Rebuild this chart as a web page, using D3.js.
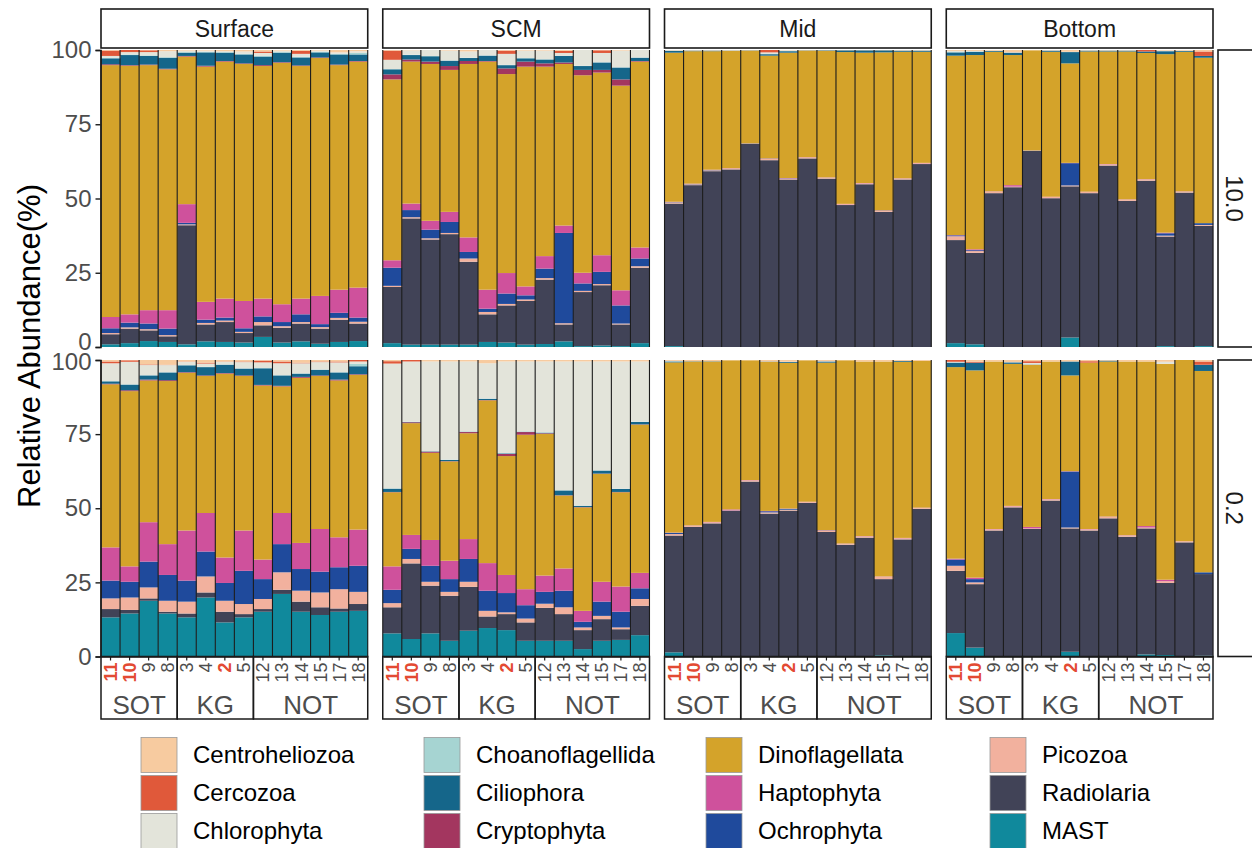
<!DOCTYPE html>
<html><head><meta charset="utf-8">
<script src="https://cdn.jsdelivr.net/npm/d3@7"></script>
<style>body{margin:0;background:#fff;}svg{display:block;font-family:"Liberation Sans",Arial,Helvetica,sans-serif;}</style>
</head><body><svg id="c" width="1252" height="848"></svg>
<script>
// ---------------- data ----------------
const depths = ["Surface", "SCM", "Mid", "Bottom"];
const sizes = ["10.0", "0.2"];
const stations = ["11", "10", "9", "8", "3", "4", "2", "5", "12", "13", "14", "15", "17", "18"];
const highlighted = ["11", "10", "2"];
const regionNames = ["SOT", "KG", "NOT"];
const regionCounts = [4, 4, 6];
const yTicks = [0, 25, 50, 75, 100];
// stacking order, bottom -> top
const taxaStack = ["MAST", "Radiolaria", "Picozoa", "Ochrophyta", "Haptophyta", "Dinoflagellata",
  "Cryptophyta", "Ciliophora", "Choanoflagellida", "Chlorophyta", "Cercozoa", "Centroheliozoa"];
const legendOrder = ["Centroheliozoa", "Cercozoa", "Chlorophyta", "Choanoflagellida", "Ciliophora", "Cryptophyta",
  "Dinoflagellata", "Haptophyta", "Ochrophyta", "Picozoa", "Radiolaria", "MAST"];
const taxaColors = ["#10899C", "#414357", "#F2B19E", "#1F4A9C", "#CF519C", "#D4A32A",
  "#A3365F", "#15668A", "#A6D4D2", "#E3E4DA", "#E0593A", "#F7CBA0"];

// rows: one per station (order of `stations`), values in `taxaStack` order (%)
const surface_10 = [
  [0.9, 3.4, 0.4, 1.6, 3.8, 84.8, 0.3, 2.0, 0.2, 0.6, 1.8, 0.2],
  [1.3, 4.9, 0.4, 1.6, 2.8, 83.7, 0.2, 3.4, 0.2, 0.8, 0.7, 0.0],
  [2.0, 3.6, 0.4, 1.9, 4.5, 82.5, 0.2, 2.9, 0.2, 1.1, 0.6, 0.1],
  [1.7, 1.9, 0.4, 2.2, 6.2, 81.1, 0.2, 3.7, 0.2, 2.0, 0.0, 0.4],
  [0.9, 40.1, 0.3, 0.5, 6.3, 49.7, 0.2, 1.1, 0.2, 0.5, 0.0, 0.2],
  [1.9, 5.7, 0.5, 1.1, 6.0, 79.2, 0.3, 4.5, 0.2, 0.4, 0.0, 0.2],
  [1.7, 6.7, 0.5, 1.0, 6.4, 79.8, 0.2, 2.8, 0.2, 0.3, 0.0, 0.4],
  [1.5, 3.2, 0.4, 1.2, 9.2, 79.8, 0.2, 3.0, 0.2, 0.8, 0.0, 0.5],
  [3.4, 3.9, 1.1, 1.9, 6.0, 78.3, 0.3, 2.9, 0.2, 1.0, 0.5, 0.5],
  [1.5, 5.0, 0.5, 1.4, 6.0, 81.3, 0.2, 3.2, 0.2, 0.5, 0.0, 0.2],
  [1.9, 6.0, 0.5, 2.6, 5.3, 78.3, 0.2, 2.7, 0.2, 1.0, 1.0, 0.3],
  [1.1, 5.1, 0.5, 1.0, 9.5, 80.1, 0.2, 1.7, 0.2, 0.4, 0.0, 0.2],
  [1.7, 7.5, 0.6, 1.7, 7.8, 75.6, 0.2, 3.4, 0.2, 0.5, 0.0, 0.8],
  [2.0, 5.9, 0.6, 1.4, 10.1, 76.1, 0.2, 2.2, 0.5, 0.6, 0.0, 0.4]
];
const scm_10 = [
  [1.3, 18.9, 0.4, 6.1, 2.5, 60.9, 1.7, 1.7, 0.1, 3.1, 3.1, 0.2],
  [0.8, 42.5, 0.4, 2.4, 2.2, 47.8, 0.7, 1.5, 0.1, 1.5, 0.0, 0.1],
  [0.8, 35.4, 0.4, 2.9, 3.0, 52.8, 0.8, 1.8, 0.1, 2.0, 0.0, 0.0],
  [0.8, 37.2, 0.4, 3.7, 3.4, 47.8, 1.3, 1.8, 0.1, 3.3, 0.0, 0.2],
  [0.8, 27.9, 1.1, 2.2, 4.9, 58.4, 1.0, 1.0, 0.1, 2.1, 0.0, 0.5],
  [1.7, 9.3, 0.8, 1.1, 6.4, 76.8, 0.2, 1.8, 0.1, 1.8, 0.0, 0.0],
  [1.5, 12.5, 0.5, 3.5, 6.9, 67.0, 1.9, 1.1, 0.1, 3.7, 1.1, 0.2],
  [0.8, 14.7, 0.5, 1.4, 3.0, 74.0, 1.7, 1.1, 0.1, 2.5, 0.0, 0.2],
  [1.0, 21.7, 0.5, 3.2, 4.2, 63.8, 1.1, 1.3, 0.1, 2.9, 0.0, 0.2],
  [1.9, 5.7, 0.4, 30.4, 2.5, 54.4, 0.5, 2.2, 0.1, 0.9, 0.7, 0.3],
  [0.3, 18.2, 0.4, 2.5, 3.6, 66.5, 1.8, 1.3, 0.1, 5.3, 0.0, 0.0],
  [0.5, 20.3, 0.4, 4.1, 5.6, 61.5, 0.9, 2.5, 0.1, 3.1, 0.9, 0.1],
  [0.3, 7.3, 0.3, 6.1, 5.1, 68.9, 2.1, 4.0, 0.1, 5.6, 0.0, 0.2],
  [1.3, 25.4, 0.5, 2.6, 3.7, 62.6, 0.2, 1.1, 0.1, 2.5, 0.0, 0.0]
];
const mid_10 = [
  [0.3, 48.0, 0.4, 0.1, 0.1, 50.2, 0.0, 0.6, 0.1, 0.1, 0.0, 0.1],
  [0.0, 54.5, 0.3, 0.1, 0.1, 44.6, 0.0, 0.2, 0.0, 0.1, 0.0, 0.1],
  [0.0, 59.2, 0.3, 0.1, 0.1, 39.9, 0.0, 0.2, 0.0, 0.1, 0.0, 0.1],
  [0.0, 59.8, 0.3, 0.0, 0.1, 39.5, 0.0, 0.1, 0.0, 0.1, 0.0, 0.1],
  [0.0, 68.5, 0.1, 0.0, 0.0, 31.2, 0.0, 0.1, 0.0, 0.0, 0.0, 0.1],
  [0.0, 62.9, 0.4, 0.1, 0.1, 34.6, 0.0, 0.5, 0.0, 0.6, 0.8, 0.0],
  [0.0, 56.4, 0.3, 0.1, 0.1, 42.2, 0.0, 0.5, 0.1, 0.2, 0.0, 0.1],
  [0.0, 63.5, 0.3, 0.0, 0.1, 35.9, 0.0, 0.1, 0.0, 0.0, 0.0, 0.1],
  [0.0, 56.7, 0.3, 0.0, 0.1, 42.6, 0.0, 0.2, 0.0, 0.0, 0.0, 0.1],
  [0.0, 47.8, 0.3, 0.0, 0.1, 51.1, 0.0, 0.6, 0.0, 0.0, 0.0, 0.1],
  [0.0, 54.8, 0.3, 0.0, 0.1, 43.9, 0.0, 0.8, 0.0, 0.0, 0.0, 0.1],
  [0.0, 45.5, 0.3, 0.1, 0.1, 53.2, 0.0, 0.7, 0.0, 0.0, 0.0, 0.1],
  [0.0, 56.4, 0.3, 0.0, 0.1, 42.6, 0.0, 0.4, 0.0, 0.1, 0.0, 0.1],
  [0.0, 61.6, 0.3, 0.0, 0.1, 37.4, 0.0, 0.4, 0.0, 0.1, 0.0, 0.1]
];
const bottom_10 = [
  [1.3, 34.7, 1.3, 0.3, 0.1, 60.4, 0.0, 1.1, 0.1, 0.4, 0.0, 0.3],
  [0.9, 30.8, 0.6, 0.3, 0.3, 65.4, 0.0, 1.1, 0.1, 0.2, 0.0, 0.3],
  [0.0, 51.8, 0.5, 0.0, 0.1, 47.0, 0.0, 0.3, 0.0, 0.1, 0.0, 0.2],
  [0.0, 53.8, 0.2, 0.0, 0.5, 43.8, 0.0, 0.8, 0.0, 0.1, 0.0, 0.8],
  [0.0, 66.1, 0.1, 0.0, 0.0, 33.7, 0.0, 0.0, 0.0, 0.0, 0.0, 0.1],
  [0.0, 50.1, 0.4, 0.0, 0.1, 48.8, 0.0, 0.4, 0.0, 0.1, 0.0, 0.1],
  [3.2, 50.9, 0.3, 7.5, 0.1, 33.5, 0.0, 3.8, 0.0, 0.1, 0.0, 0.6],
  [0.0, 51.8, 0.4, 0.0, 0.1, 47.2, 0.0, 0.3, 0.0, 0.1, 0.0, 0.1],
  [0.0, 61.1, 0.4, 0.0, 0.1, 37.9, 0.0, 0.3, 0.0, 0.1, 0.0, 0.1],
  [0.0, 49.2, 0.4, 0.0, 0.1, 49.8, 0.0, 0.3, 0.0, 0.1, 0.0, 0.1],
  [0.0, 56.0, 0.4, 0.0, 0.1, 42.5, 0.0, 0.5, 0.0, 0.0, 0.5, 0.0],
  [0.3, 36.9, 0.3, 0.8, 0.2, 60.1, 0.0, 1.0, 0.0, 0.2, 0.0, 0.2],
  [0.0, 52.0, 0.3, 0.0, 0.1, 47.0, 0.0, 0.3, 0.0, 0.1, 0.0, 0.2],
  [0.3, 40.5, 0.3, 0.6, 0.0, 55.7, 0.0, 0.6, 0.0, 0.0, 1.5, 0.5]
];
const surface_02 = [
  [13.2, 2.8, 3.6, 6.0, 11.2, 55.0, 0.2, 0.8, 0.1, 6.0, 0.6, 0.5],
  [14.5, 1.2, 4.2, 5.3, 5.2, 59.1, 0.3, 1.9, 0.1, 7.6, 0.5, 0.1],
  [18.8, 0.8, 3.7, 8.7, 13.3, 47.8, 0.3, 1.4, 0.1, 3.4, 0.2, 1.5],
  [14.5, 0.6, 3.7, 8.7, 10.4, 55.0, 0.3, 2.6, 0.1, 2.4, 0.1, 1.6],
  [13.2, 1.3, 4.0, 7.1, 16.9, 53.2, 0.2, 2.3, 0.1, 1.1, 0.1, 0.5],
  [19.9, 1.7, 5.4, 8.4, 13.0, 46.2, 0.2, 2.8, 0.1, 1.1, 0.3, 0.9],
  [11.5, 3.6, 3.7, 6.0, 8.6, 62.0, 0.2, 2.8, 0.1, 0.9, 0.1, 0.5],
  [13.2, 1.1, 3.4, 11.2, 13.6, 52.1, 0.2, 2.3, 0.1, 2.1, 0.2, 0.5],
  [15.1, 0.9, 3.4, 6.7, 6.6, 58.7, 0.2, 5.6, 0.1, 1.9, 0.6, 0.2],
  [21.1, 1.4, 5.9, 9.5, 10.5, 42.7, 0.2, 3.5, 0.1, 4.0, 0.6, 0.5],
  [15.1, 3.4, 3.7, 7.3, 8.8, 55.7, 0.3, 1.1, 0.1, 3.4, 0.2, 0.9],
  [14.0, 2.6, 5.0, 7.0, 14.4, 51.6, 0.2, 1.9, 0.1, 2.5, 0.2, 0.5],
  [15.1, 1.1, 6.5, 7.4, 10.1, 52.9, 0.3, 2.4, 0.1, 3.3, 0.3, 0.5],
  [15.4, 2.3, 4.1, 8.8, 12.2, 52.2, 0.2, 2.7, 0.8, 0.8, 0.5, 0.0]
];
const scm_02 = [
  [7.8, 8.8, 1.4, 4.5, 7.9, 25.0, 0.1, 1.1, 0.1, 42.1, 0.8, 0.4],
  [5.9, 25.5, 1.5, 3.4, 4.7, 37.7, 0.3, 0.1, 0.1, 20.3, 0.5, 0.0],
  [7.8, 16.1, 1.3, 5.4, 8.7, 29.4, 0.4, 0.1, 0.1, 30.2, 0.0, 0.5],
  [5.3, 15.2, 1.3, 4.3, 6.2, 33.5, 0.1, 0.4, 0.1, 33.1, 0.0, 0.5],
  [8.7, 14.8, 1.7, 7.7, 6.7, 35.7, 0.4, 0.1, 0.1, 23.6, 0.0, 0.5],
  [9.6, 3.9, 1.9, 6.8, 9.3, 54.9, 0.1, 0.4, 0.1, 11.9, 0.0, 1.1],
  [8.9, 5.4, 0.6, 6.5, 6.1, 40.1, 0.7, 0.2, 0.1, 30.9, 0.0, 0.5],
  [5.3, 6.2, 1.3, 4.5, 5.4, 52.1, 0.9, 0.1, 0.1, 23.6, 0.0, 0.5],
  [5.3, 11.1, 1.4, 4.0, 5.5, 47.8, 0.2, 0.2, 0.1, 23.9, 0.0, 0.5],
  [5.3, 9.0, 2.3, 5.6, 7.5, 24.6, 0.1, 1.6, 0.1, 43.4, 0.0, 0.5],
  [2.5, 6.4, 0.9, 1.9, 3.7, 34.9, 0.1, 0.4, 0.1, 48.6, 0.0, 0.5],
  [5.3, 7.3, 1.1, 4.8, 6.7, 36.4, 0.1, 1.0, 0.1, 36.7, 0.0, 0.5],
  [5.6, 3.6, 0.6, 5.3, 8.5, 31.8, 0.1, 1.0, 0.1, 42.9, 0.0, 0.5],
  [7.2, 9.9, 2.3, 3.6, 5.2, 50.0, 0.1, 0.8, 0.1, 20.3, 0.0, 0.5]
];
const mid_02 = [
  [1.4, 39.4, 0.5, 0.4, 0.1, 57.4, 0.0, 0.3, 0.1, 0.1, 0.0, 0.3],
  [0.1, 43.6, 0.4, 0.0, 0.1, 55.3, 0.0, 0.1, 0.0, 0.0, 0.0, 0.4],
  [0.0, 44.9, 0.4, 0.0, 0.1, 54.1, 0.0, 0.1, 0.0, 0.0, 0.0, 0.4],
  [0.0, 49.2, 0.1, 0.0, 0.3, 50.3, 0.0, 0.0, 0.0, 0.0, 0.0, 0.1],
  [0.0, 59.0, 0.4, 0.0, 0.1, 40.4, 0.0, 0.0, 0.0, 0.0, 0.0, 0.1],
  [0.1, 48.1, 0.4, 0.4, 0.1, 50.3, 0.0, 0.1, 0.0, 0.0, 0.0, 0.5],
  [0.0, 49.2, 0.3, 0.3, 0.1, 49.1, 0.0, 0.3, 0.0, 0.1, 0.0, 0.6],
  [0.0, 51.8, 0.3, 0.0, 0.1, 47.7, 0.0, 0.0, 0.0, 0.0, 0.0, 0.1],
  [0.1, 41.9, 0.4, 0.1, 0.1, 56.5, 0.0, 0.4, 0.0, 0.1, 0.0, 0.4],
  [0.0, 37.7, 0.3, 0.0, 0.1, 61.8, 0.0, 0.0, 0.0, 0.0, 0.0, 0.1],
  [0.0, 40.1, 0.4, 0.0, 0.1, 58.9, 0.0, 0.0, 0.0, 0.0, 0.0, 0.5],
  [0.4, 25.7, 0.8, 0.0, 0.1, 72.5, 0.0, 0.0, 0.0, 0.0, 0.0, 0.5],
  [0.1, 39.4, 0.4, 0.0, 0.1, 59.4, 0.0, 0.3, 0.0, 0.0, 0.0, 0.3],
  [0.0, 49.8, 0.3, 0.0, 0.1, 49.5, 0.0, 0.0, 0.0, 0.0, 0.0, 0.3]
];
const bottom_02 = [
  [7.9, 21.0, 1.7, 2.1, 0.3, 64.6, 0.0, 1.5, 0.1, 0.2, 0.6, 0.0],
  [3.0, 21.4, 0.6, 1.1, 0.5, 69.9, 0.0, 2.6, 0.0, 0.0, 0.3, 0.6],
  [0.0, 42.5, 0.4, 0.0, 0.1, 56.5, 0.0, 0.0, 0.0, 0.0, 0.0, 0.5],
  [0.0, 50.3, 0.4, 0.0, 0.1, 47.9, 0.0, 0.5, 0.0, 0.1, 0.0, 0.7],
  [0.0, 43.0, 0.2, 0.0, 0.5, 54.7, 0.0, 0.1, 0.0, 0.5, 0.6, 0.4],
  [0.0, 52.6, 0.4, 0.0, 0.1, 46.4, 0.0, 0.0, 0.0, 0.0, 0.0, 0.5],
  [1.6, 41.6, 0.3, 18.9, 0.1, 32.3, 0.0, 4.7, 0.0, 0.0, 0.0, 0.5],
  [0.0, 42.5, 0.4, 0.0, 0.1, 56.1, 0.0, 0.0, 0.0, 0.0, 0.5, 0.4],
  [0.0, 46.6, 0.5, 0.0, 0.1, 52.3, 0.0, 0.3, 0.0, 0.0, 0.0, 0.2],
  [0.0, 40.4, 0.4, 0.0, 0.1, 58.6, 0.0, 0.0, 0.0, 0.0, 0.0, 0.5],
  [0.7, 42.5, 0.3, 0.0, 0.5, 55.5, 0.0, 0.0, 0.0, 0.0, 0.0, 0.5],
  [0.5, 24.3, 0.6, 0.0, 0.5, 72.8, 0.0, 0.0, 0.0, 0.7, 0.0, 0.6],
  [0.0, 38.5, 0.4, 0.0, 0.0, 61.1, 0.0, 0.0, 0.0, 0.0, 0.0, 0.0],
  [0.3, 27.5, 0.0, 0.6, 0.0, 67.9, 0.0, 2.1, 0.0, 0.0, 1.1, 0.5]
];
const panelData = {
  "10.0": [surface_10, scm_10, mid_10, bottom_10],
  "0.2": [surface_02, scm_02, mid_02, bottom_02]
};

// ---------------- layout ----------------
const svg = d3.select("#c");
const colorScale = d3.scaleOrdinal().domain(taxaStack).range(taxaColors);
const colX = d3.scaleBand().domain(depths).range([101, 1213]).paddingInner(15 / 281.25);
const rowY = { "10.0": [50, 347], "0.2": [360, 656.5] };
const txtGrey = "#4d4d4d";
const redLab = "#E34A33";
const FONT = "Liberation Sans, Arial, sans-serif";

const stack = d3.stack().keys(taxaStack);

sizes.forEach(size => {
  const [yTop, yBot] = rowY[size];
  const y = d3.scaleLinear().domain([0, 100]).range([yBot, yTop]);
  depths.forEach((depth, di) => {
    const rows = panelData[size][di];
    const objs = rows.map((r, i) => {
      const tot = d3.sum(r);
      const o = { station: stations[i] };
      taxaStack.forEach((t, k) => o[t] = r[k] / tot * 100);
      return o;
    });
    const series = stack(objs);
    const x0 = colX(depth), pw = colX.bandwidth();
    const x = d3.scaleBand().domain(stations).range([x0, x0 + pw]).padding(0);
    const g = svg.append("g");
    g.selectAll("g.s").data(series).join("g")
      .attr("fill", d => colorScale(d.key))
      .selectAll("rect").data(d => d).join("rect")
      .attr("x", d => x(d.data.station))
      .attr("width", x.bandwidth() + 0.3)
      .attr("y", d => y(d[1]))
      .attr("height", d => Math.max(0, y(d[0]) - y(d[1])));
    // bar separators
    g.selectAll("line.sep").data(stations.concat(["__end"])).join("line")
      .attr("x1", (d, i) => x0 + i * x.step()).attr("x2", (d, i) => x0 + i * x.step())
      .attr("y1", yTop).attr("y2", yBot)
      .attr("stroke", "#1c1c1c").attr("stroke-width", 1.1);

    // top strips
    if (size === "10.0") {
      svg.append("rect").attr("x", x0).attr("y", 9).attr("width", pw).attr("height", 39)
        .attr("fill", "#fff").attr("stroke", "#1a1a1a").attr("stroke-width", 1.6);
      svg.append("text").attr("x", x0 + pw / 2).attr("y", 29).attr("dy", "0.35em")
        .attr("text-anchor", "middle").attr("font-size", 23).attr("fill", "#1a1a1a").text(depth);
    }
    // left axis
    if (di === 0) {
      const ax = svg.append("g").attr("transform", `translate(${x0 - 0.5},0)`)
        .call(d3.axisLeft(y).tickValues(yTicks).tickSize(5).tickPadding(4));
      ax.select(".domain").attr("stroke", "#1a1a1a").attr("stroke-width", 1.6);
      ax.selectAll(".tick line").attr("stroke", "#1a1a1a").attr("stroke-width", 1.4);
      ax.selectAll("text").attr("font-size", 24).attr("fill", txtGrey)
        .attr("font-family", FONT)
        .attr("dy", d => (size === "10.0" && d === 0) ? "0.12em" : (size === "0.2" && d === 100) ? "0.4em" : "0.32em");
    }
    // bottom axis + region boxes
    if (size === "0.2") {
      const ax = svg.append("g").attr("transform", `translate(0,${yBot})`)
        .call(d3.axisBottom(x).tickSize(4).tickSizeOuter(0));
      ax.select(".domain").attr("stroke", "#1a1a1a").attr("stroke-width", 1.6);
      ax.selectAll(".tick line").attr("stroke", "#1a1a1a").attr("stroke-width", 1.2);
      ax.selectAll("text")
        .attr("transform", "rotate(-90)")
        .attr("x", -6).attr("y", 0).attr("dy", "0.36em")
        .attr("text-anchor", "end")
        .attr("font-size", 18)
        .attr("font-family", FONT)
        .attr("fill", d => highlighted.includes(d) ? redLab : txtGrey)
        .attr("font-weight", d => highlighted.includes(d) ? "bold" : "normal");
      // region boxes
      const totalN = d3.sum(regionCounts);
      let acc = 0;
      regionNames.forEach((rn, ri) => {
        const a = x0 + pw * acc / totalN;
        acc += regionCounts[ri];
        const b = x0 + pw * acc / totalN;
        svg.append("rect").attr("x", a).attr("y", yBot).attr("width", b - a).attr("height", 62.5)
          .attr("fill", "none").attr("stroke", "#1a1a1a").attr("stroke-width", 1.5);
        svg.append("text").attr("x", (a + b) / 2).attr("y", 705).attr("dy", "0.35em")
          .attr("text-anchor", "middle").attr("font-size", 26).attr("fill", txtGrey).text(rn);
      });
    }
  });
  // right strip
  svg.append("rect").attr("x", 1218).attr("y", yTop).attr("width", 60).attr("height", yBot - yTop)
    .attr("fill", "#fff").attr("stroke", "#1a1a1a").attr("stroke-width", 1.6);
  svg.append("text").attr("transform", `translate(1234,${(yTop + yBot) / 2}) rotate(90)`)
    .attr("text-anchor", "middle").attr("dy", "0.35em").attr("font-size", 24).attr("fill", "#1a1a1a").text(size);
});

// y title
svg.append("text").attr("transform", "translate(29,346) rotate(-90)")
  .attr("text-anchor", "middle").attr("dy", "0.35em").attr("font-size", 31).attr("fill", "#000")
  .text("Relative Abundance(%)");

// legend (column-major, 3 rows)
const legX = [141, 424, 706, 990];
const legY = [755, 793, 831];
const lg = svg.append("g");
legendOrder.forEach((t, i) => {
  const c = Math.floor(i / 3), r = i % 3;
  lg.append("rect").attr("x", legX[c]).attr("y", legY[r] - 17.5).attr("width", 36).attr("height", 35)
    .attr("fill", colorScale(t)).attr("stroke", "#9a9a9a").attr("stroke-width", 0.8);
  lg.append("text").attr("x", legX[c] + 52).attr("y", legY[r]).attr("dy", "0.35em")
    .attr("font-size", 24).attr("fill", "#000").text(t);
});
</script></body></html>
